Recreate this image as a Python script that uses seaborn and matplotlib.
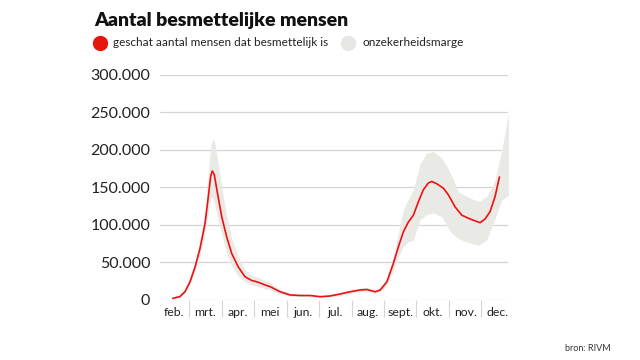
import pandas as pd
import matplotlib.pyplot as plt
import seaborn as sns
from matplotlib.lines import Line2D
from matplotlib.ticker import FuncFormatter

# days since 1 Feb, estimated number of infectious people (RIVM)
days = [13.7, 20.5, 25.2, 29.9, 34.7, 39.4, 44.1, 47.2, 49.4, 50.9, 52.8, 55.6,
        59.8, 64.5, 69.2, 75.4, 81.7, 88.0, 94.3, 100.6, 105.3, 114.7, 124.1,
        133.5, 142.9, 152.4, 161.8, 171.2, 180.6, 190.0, 196.3, 204.1, 208.9,
        215.2, 221.4, 226.1, 230.8, 235.5, 240.2, 244.9, 249.6, 254.3, 257.5,
        262.2, 268.5, 273.2, 279.5, 285.8, 293.6, 303.0, 307.7, 312.4, 317.1, 321.2]
infectious = [2200, 4400, 11000, 24000, 44000, 69000, 102000, 138000, 165000, 172000,
              167000, 144000, 111000, 84000, 62000, 44000, 31000, 26000, 23600, 20000,
              17800, 11000, 6700, 6000, 6000, 4400, 5300, 8000, 11000, 13300, 14000,
              11000, 13300, 24000, 49000, 71000, 91000, 104000, 113000, 131000, 147000,
              156000, 158000, 155000, 149000, 140000, 124000, 113000, 108000, 103000,
              108000, 118000, 138000, 164000]

# uncertainty margin
band_days = [13, 25.2, 34.7, 39.4, 44.1, 47.2, 49.4, 50.9, 52.8, 55.6, 59.8, 64.5,
             69.2, 75.4, 81.7, 88, 94.3, 100.6, 105.3, 114.7, 124.1, 133.5, 152.4,
             171.2, 190, 196.3, 204.1, 208.9, 215.2, 221.4, 226.1, 230.8, 235.5,
             240.2, 246.5, 252.8, 259.1, 267, 271.7, 276.4, 282.6, 290.6, 301.5,
             309.3, 317.1, 323.4, 329.7]
band_low = [1000, 9000, 38000, 60000, 90000, 120000, 135000, 138000, 130000, 112000,
            88000, 62000, 45000, 32000, 24000, 20000, 18000, 15000, 13000, 8000, 5000,
            4500, 3500, 6000, 11000, 11500, 9000, 11000, 20000, 40000, 58000, 71000,
            78000, 80000, 107000, 114000, 116000, 111000, 98000, 89000, 82000, 77000,
            73000, 80000, 109000, 133000, 140000]
band_high = [3000, 13000, 50000, 78000, 118000, 170000, 205000, 214000, 212000, 190000,
             150000, 112000, 82000, 58000, 40000, 33000, 30000, 26000, 23000, 14000, 9000,
             8000, 6000, 10000, 16000, 17000, 13000, 16000, 30000, 58000, 90000, 120000,
             135000, 147000, 182000, 196000, 198000, 189000, 178000, 165000, 144000,
             138000, 131000, 138000, 160000, 200000, 249000]

months = ['feb.', 'mrt.', 'apr.', 'mei', 'jun.', 'jul.', 'aug.', 'sept.', 'okt.',
          'nov.', 'dec.']

sns.set_theme(style='white')
plt.rcParams['font.family'] = ['Lato', 'DejaVu Sans']

df = pd.DataFrame({'dag': days, 'besmettelijk': infectious})

fig = plt.figure(figsize=(6.4, 3.6), dpi=100)
ax = fig.add_axes([0.25, 0.1667, 0.544, 0.625])

ax.fill_between(band_days, band_low, band_high, color='#e9e9e5', lw=0, zorder=2)
sns.lineplot(data=df, x='dag', y='besmettelijk', color='#f01010', lw=1.2, ax=ax,
             zorder=3)

# month boundaries and label positions
start = pd.Timestamp('2020-02-01')
bounds = [(d - start).days for d in pd.date_range('2020-02-01', '2021-01-01', freq='MS')]
centers = [(a + b) / 2 for a, b in zip(bounds[:-1], bounds[1:])]

ax.set_xlim(1.7, 329.4)
ax.set_ylim(0, 300000)
ax.set_yticks(range(0, 300001, 50000))
ax.yaxis.set_major_formatter(FuncFormatter(lambda v, p: f'{v:,.0f}'.replace(',', '.')))
ax.set_xticks(centers)
ax.set_xticklabels(months)
ax.set_xticks(bounds[1:-1], minor=True)
ax.tick_params(axis='x', which='major', length=0, pad=5, labelsize=8.8, colors='#222222')
ax.tick_params(axis='x', which='minor', length=12, width=0.8, color='#d5d5d5',
               direction='out', bottom=True)
ax.tick_params(axis='y', length=0, pad=7, labelsize=11.5, colors='#222222')

ax.grid(axis='y', color='#d4d4d4', lw=0.9)
ax.set_axisbelow(True)
for s in ax.spines.values():
    s.set_visible(False)
ax.set_xlabel('')
ax.set_ylabel('')

fig.text(0.148, 0.944, 'Aantal besmettelijke mensen', fontsize=14, fontweight='heavy',
         va='center', ha='left', color='#111111')
fig.add_artist(Line2D([0.157], [0.881], marker='o', ms=10, color='#e8150f',
                      transform=fig.transFigure))
fig.text(0.176, 0.881, 'geschat aantal mensen dat besmettelijk is', fontsize=8.5,
         va='center', ha='left', color='#222222')
fig.add_artist(Line2D([0.544], [0.881], marker='o', ms=10, color='#e6e6e2',
                      transform=fig.transFigure))
fig.text(0.566, 0.881, 'onzekerheidsmarge', fontsize=8.5, va='center', ha='left',
         color='#222222')
fig.text(0.955, 0.033, 'bron: RIVM', fontsize=6.5, va='center', ha='right',
         color='#333333')

fig.savefig('out.png', dpi=100)
